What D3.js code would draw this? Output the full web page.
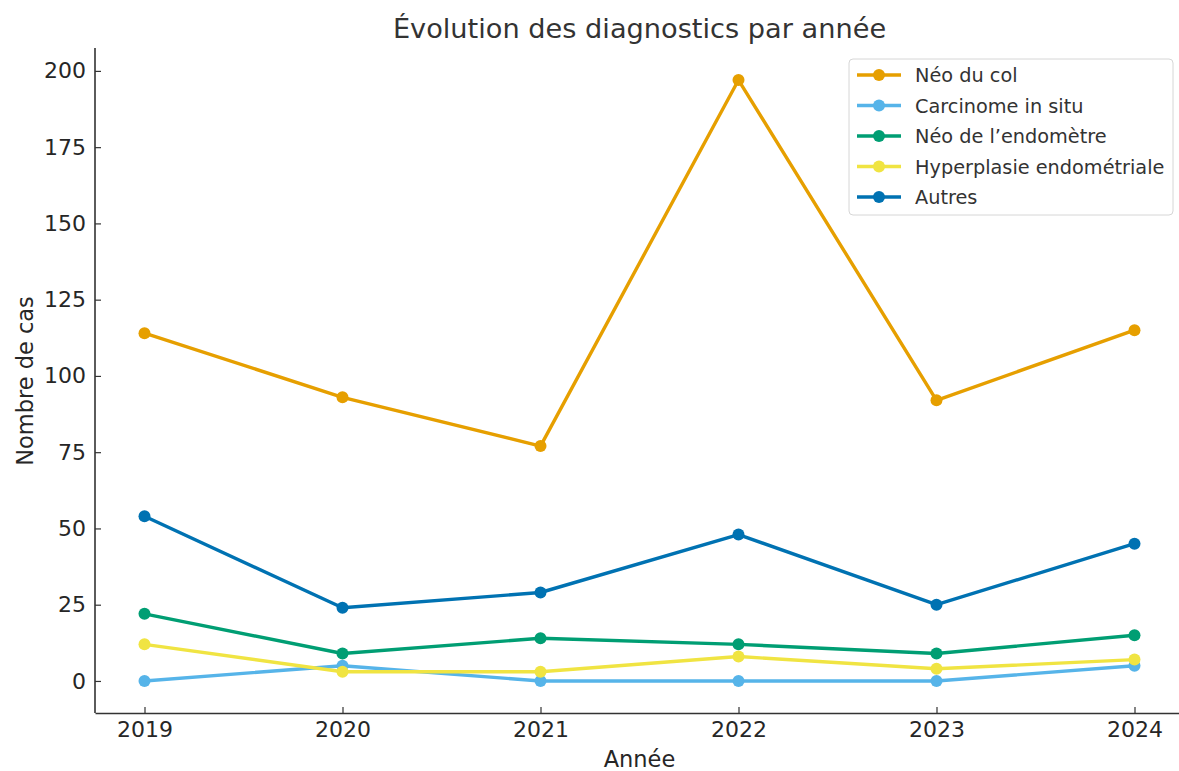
<!DOCTYPE html>
<html>
<head>
<meta charset="utf-8">
<script src="https://cdn.jsdelivr.net/npm/d3@7"></script>
<style>
  body { margin: 0; background: #fff; }
  svg { font-family: "DejaVu Sans", sans-serif; }
</style>
</head>
<body>
<svg width="1179" height="771"></svg>
<script>
// données
const years = [2019, 2020, 2021, 2022, 2023, 2024];
const seriesNames = ['Néo du col', 'Carcinome in situ', 'Néo de l’endomètre', 'Hyperplasie endométriale', 'Autres'];
const neoCol = [114, 93, 77, 197, 92, 115];
const carcinome = [0, 5, 0, 0, 0, 5];
const neoEndo = [22, 9, 14, 12, 9, 15];
const hyperplasie = [12, 3, 3, 8, 4, 7];
const autres = [54, 24, 29, 48, 25, 45];
const yTicks = [0, 25, 50, 75, 100, 125, 150, 175, 200];

const colors = ['#E69F00', '#56B4E9', '#009E73', '#F0E442', '#0072B2'];
const allValues = [neoCol, carcinome, neoEndo, hyperplasie, autres];

const svg = d3.select('svg');
const textColor = '#262626';

const plotLeft = 95, plotRight = 1184, plotTop = 50, plotBottom = 711;

// échelles (marge de 5 % comme matplotlib)
const scaleX = d3.scaleLinear().domain([2018.75, 2024.25]).range([plotLeft, plotRight]);
const scaleY = d3.scaleLinear().domain([-9.85, 206.85]).range([plotBottom, plotTop]);

// axe OX
const axisX = d3.axisBottom(scaleX).tickValues(years).tickFormat(d3.format('d'))
    .tickSizeInner(-6).tickSizeOuter(0).tickPadding(8);
const gx = svg.append('g')
    .attr('transform', `translate(0, ${plotBottom + 2})`)
    .call(axisX);
gx.select('.domain').attr('stroke', '#333').attr('stroke-width', 1.6);
gx.selectAll('.tick line').attr('stroke', '#333').attr('stroke-width', 1.2);
gx.selectAll('text').attr('font-size', 22).attr('fill', textColor)
    .attr('font-family', '"DejaVu Sans", sans-serif');

// axe OY
const axisY = d3.axisLeft(scaleY).tickValues(yTicks)
    .tickSizeInner(-6).tickSizeOuter(0).tickPadding(9);
const gy = svg.append('g')
    .attr('transform', `translate(${plotLeft}, 0)`)
    .call(axisY);
gy.select('.domain').attr('d', `M0,${plotTop - 2}V${plotBottom + 2}`)
    .attr('stroke', '#333').attr('stroke-width', 1.6);
gy.selectAll('.tick line').attr('stroke', '#333').attr('stroke-width', 1.2);
gy.selectAll('text').attr('font-size', 22).attr('fill', textColor)
    .attr('font-family', '"DejaVu Sans", sans-serif');

// courbes
const line = d3.line()
    .x((d, i) => scaleX(years[i]))
    .y(d => scaleY(d));

allValues.forEach((vals, k) => {
    svg.append('path')
        .datum(vals)
        .attr('d', line)
        .attr('fill', 'none')
        .attr('stroke', colors[k])
        .attr('stroke-width', 3.4)
        .attr('stroke-linejoin', 'round');
    svg.selectAll(null)
        .data(vals)
        .enter()
        .append('circle')
        .attr('cx', (d, i) => scaleX(years[i]))
        .attr('cy', d => scaleY(d))
        .attr('r', 6)
        .attr('fill', colors[k]);
});

// titre et libellés
svg.append('text')
    .attr('x', (plotLeft + plotRight) / 2).attr('y', 38)
    .attr('text-anchor', 'middle')
    .attr('font-size', 27.2).attr('fill', '#333')
    .text('Évolution des diagnostics par année');

svg.append('text')
    .attr('x', (plotLeft + plotRight) / 2).attr('y', 767)
    .attr('text-anchor', 'middle')
    .attr('font-size', 22.5).attr('fill', textColor)
    .text('Année');

svg.append('text')
    .attr('transform', `translate(33, 381) rotate(-90)`)
    .attr('text-anchor', 'middle')
    .attr('font-size', 22.5).attr('fill', textColor)
    .text('Nombre de cas');

// légende
const legend = svg.append('g').attr('transform', 'translate(849, 59)');
legend.append('rect')
    .attr('width', 324).attr('height', 156)
    .attr('rx', 4)
    .attr('fill', '#fff').attr('fill-opacity', 0.8)
    .attr('stroke', '#d6d6d6');
seriesNames.forEach((name, k) => {
    const y = 16 + k * 30.5;
    legend.append('line')
        .attr('x1', 8).attr('x2', 52).attr('y1', y).attr('y2', y)
        .attr('stroke', colors[k]).attr('stroke-width', 3.4);
    legend.append('circle')
        .attr('cx', 30).attr('cy', y).attr('r', 6)
        .attr('fill', colors[k]);
    legend.append('text')
        .attr('x', 66).attr('y', y + 7)
        .attr('font-size', 19.3).attr('fill', '#333')
        .text(name);
});
</script>
</body>
</html>
